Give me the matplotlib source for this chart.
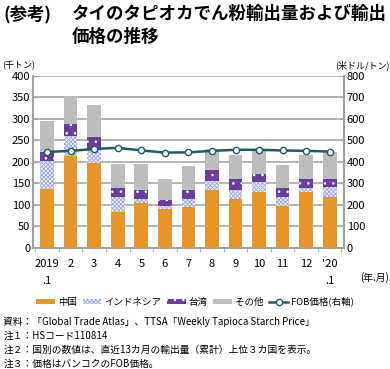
import matplotlib
matplotlib.use("Agg")
import matplotlib.pyplot as plt
import numpy as np

plt.rcParams['font.family'] = ['Noto Sans CJK JP', 'DejaVu Sans']
plt.rcParams['hatch.linewidth'] = 0.6

months = ["2019\n.1", "2", "3", "4", "5", "6", "7", "8", "9", "10", "11", "12", "'20\n.1"]
china = [137, 214, 197, 83, 103, 89, 95, 135, 113, 129, 96, 130, 119]
indonesia = [65, 47, 32, 34, 10, 7, 18, 21, 22, 23, 23, 8, 22]
taiwan = [22, 28, 28, 22, 21, 15, 22, 25, 25, 20, 19, 22, 19]
other = [72, 65, 76, 56, 61, 49, 55, 48, 55, 58, 54, 57, 62]
fob = [446, 451, 460, 465, 453, 443, 444, 451, 456, 456, 453, 451, 448]

fig = plt.figure(figsize=(3.9, 3.69), dpi=100)
ax = fig.add_axes([0.0846, 0.329, 0.797, 0.465])
x = np.arange(len(months))
w = 0.58
c_china = '#E8962A'
c_tw = '#6A3C9C'
c_oth = '#BDBDBD'
b1 = ax.bar(x, china, w, color=c_china, zorder=3)
bot = np.array(china)
b2 = ax.bar(x, indonesia, w, bottom=bot, facecolor='#EEF0FA', edgecolor='#9AA8DC', hatch='xxxxxxxx', linewidth=0, zorder=3)
bot = bot + np.array(indonesia)
b3 = ax.bar(x, taiwan, w, bottom=bot, facecolor=c_tw, edgecolor='white', hatch='..', linewidth=0, zorder=3)
bot = bot + np.array(taiwan)
b4 = ax.bar(x, other, w, bottom=bot, color=c_oth, zorder=3)

ax.set_ylim(0, 400)
ax.set_xlim(-0.6, len(months) - 0.4)
ax.set_yticks(np.arange(0, 401, 50))
ax.yaxis.grid(True, color='#A8A8A8', linewidth=1.2, zorder=0)
ax.set_axisbelow(True)
ax.spines['top'].set_visible(False)
for s in ['left', 'right', 'bottom']:
    ax.spines[s].set_color('#A0A0A0')
    ax.spines[s].set_linewidth(1.5)
ax.set_xticks(x)
ax.set_xticklabels(months, fontsize=8, linespacing=1.9, va='top')
ax.tick_params(axis='x', length=0, pad=8)
ax.set_xticks(np.arange(-0.5, len(months), 1), minor=True)
ax.tick_params(axis='x', which='minor', length=3, color='#A0A0A0', direction='out')
ax.tick_params(axis='y', labelsize=8, length=3, color='#A0A0A0', pad=2, direction='in')

ax2 = ax.twinx()
ax2.set_ylim(0, 800)
ax2.set_yticks(np.arange(0, 801, 100))
l1, = ax2.plot(x, fob, color='#1E5B66', linewidth=1.8, marker='o', markersize=4.5,
               markerfacecolor='white', markeredgecolor='#1E5B66', markeredgewidth=1, zorder=5)
ax2.tick_params(axis='y', labelsize=8, length=3, color='#A0A0A0', pad=2, direction='in')
for s in ax2.spines.values():
    s.set_visible(False)

# texts
fig.text(0.008, 0.962, "(参考)", fontsize=12.5, fontweight='bold', va='center', ha='left')
fig.text(0.185, 0.962, "タイのタピオカでん粉輸出量および輸出", fontsize=12.6, fontweight='bold', va='center', ha='left')
fig.text(0.185, 0.899, "価格の推移", fontsize=12.6, fontweight='bold', va='center', ha='left')
fig.text(0.005, 0.823, "(千トン)", fontsize=6.5, va='center', ha='left')
fig.text(0.998, 0.823, "(米ドル/トン)", fontsize=6.5, va='center', ha='right')
fig.text(0.998, 0.249, "(年.月)", fontsize=7, va='center', ha='right')

handles = [b1, b2, b3, b4, l1]
labels = ["中国", "インドネシア", "台湾", "その他", "FOB価格(右軸)"]
fig.legend(handles, labels, loc='center', bbox_to_anchor=(0.5, 0.182), ncol=5, frameon=False,
           fontsize=6.8, handlelength=2.0, handleheight=0.5, handletextpad=0.3, columnspacing=0.6)

notes = ["資料：「Global Trade Atlas」、TTSA「Weekly Tapioca Starch Price」",
         "注１：HSコード110814",
         "注２：国別の数値は、直近13カ月の輸出量（累計）上位３カ国を表示。",
         "注３：価格はバンコクのFOB価格。"]
for i, n in enumerate(notes):
    fig.text(0.008, 0.129 - i * 0.0385, n, fontsize=7, va='center', ha='left')

fig.savefig("out.png", dpi=100)
